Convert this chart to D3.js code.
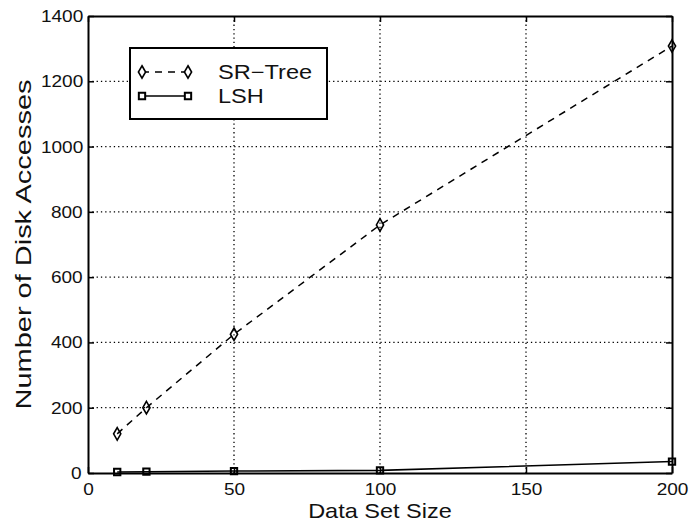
<!DOCTYPE html>
<html>
<head>
<meta charset="utf-8">
<script src="https://cdn.jsdelivr.net/npm/d3@7"></script>
<style>
  body { margin: 0; background: #fff; }
  svg { display: block; font-family: "Liberation Sans", Arial, sans-serif; }
  .stretch { transform-box: fill-box; transform-origin: center; transform: scaleX(1.12); }
  .stretch-l { transform-box: fill-box; transform-origin: left; transform: scaleX(1.18); }
</style>
</head>
<body>
<svg id="chart" width="691" height="528"></svg>
<script>
// data
const sizes = [10, 20, 50, 100, 200];
const srTree = [120, 200, 425, 760, 1308];
const lsh = [3, 4, 6, 8, 35];
const xTicks = [0, 50, 100, 150, 200];
const yTicks = [0, 200, 400, 600, 800, 1000, 1200, 1400];
const seriesNames = ["SR\u2212Tree", "LSH"];

const MARGIN = { TOP: 16, LEFT: 88, RIGHT: 19, BOTTOM: 55 };
const width = 691, height = 528;
const w = width - MARGIN.LEFT - MARGIN.RIGHT;
const h = height - MARGIN.TOP - MARGIN.BOTTOM;

const svg = d3.select("#chart");
const g = svg.append("g").attr("transform", `translate(${MARGIN.LEFT},${MARGIN.TOP})`);

const x = d3.scaleLinear().domain([0, 200]).range([0, w]);
const y = d3.scaleLinear().domain([0, 1400]).range([h, 0]);

// dotted grid
g.selectAll(".gx").data(xTicks.slice(1, -1)).enter().append("line")
  .attr("x1", d => x(d)).attr("x2", d => x(d)).attr("y1", 0).attr("y2", h)
  .attr("stroke", "#000").attr("stroke-width", 1.3).attr("stroke-dasharray", "1.3,3");
g.selectAll(".gy").data(yTicks.slice(1, -1)).enter().append("line")
  .attr("y1", d => y(d)).attr("y2", d => y(d)).attr("x1", 0).attr("x2", w)
  .attr("stroke", "#000").attr("stroke-width", 1.3).attr("stroke-dasharray", "1.3,3");

// axes, ticks pointing inward
const tickLen = 6;
const fmt = d3.format("d");
g.append("g").attr("transform", `translate(0,${h})`)
  .call(d3.axisBottom(x).tickValues(xTicks).tickFormat(fmt).tickSizeInner(-tickLen).tickSizeOuter(0).tickPadding(10));
g.append("g")
  .call(d3.axisLeft(y).tickValues(yTicks).tickFormat(fmt).tickSizeInner(-tickLen).tickSizeOuter(0).tickPadding(7));
g.append("g")
  .call(d3.axisTop(x).tickValues(xTicks).tickSizeInner(-tickLen).tickSizeOuter(0).tickFormat(""));
g.append("g").attr("transform", `translate(${w},0)`)
  .call(d3.axisRight(y).tickValues(yTicks).tickSizeInner(-tickLen).tickSizeOuter(0).tickFormat(""));

g.selectAll(".domain").attr("stroke", "#000").attr("stroke-width", 2);
g.selectAll(".tick line").attr("stroke", "#000").attr("stroke-width", 1.5);
g.selectAll(".tick text").attr("font-size", 17).attr("fill", "#111")
  .attr("font-family", "'Liberation Sans', Arial, sans-serif").attr("class", "stretch");

// series
const line = d3.line().x((d, i) => x(sizes[i])).y(d => y(d));

g.append("path").datum(srTree).attr("d", line)
  .attr("fill", "none").attr("stroke", "#000").attr("stroke-width", 1.5).attr("stroke-dasharray", "7,6");
g.append("path").datum(lsh).attr("d", line)
  .attr("fill", "none").attr("stroke", "#000").attr("stroke-width", 1.6);

const diamond = d3.symbol().type(d3.symbolDiamond).size(45);
const square = d3.symbol().type(d3.symbolSquare).size(40);

g.selectAll(".mk-sr").data(srTree).enter().append("path")
  .attr("d", diamond).attr("transform", (d, i) => `translate(${x(sizes[i])},${y(d)})`)
  .attr("fill", "none").attr("stroke", "#000").attr("stroke-width", 1.6);
g.selectAll(".mk-lsh").data(lsh).enter().append("path")
  .attr("d", square).attr("transform", (d, i) => `translate(${x(sizes[i])},${y(d)})`)
  .attr("fill", "none").attr("stroke", "#000").attr("stroke-width", 2);

// legend
const leg = svg.append("g");
leg.append("rect").attr("x", 130).attr("y", 48).attr("width", 197).attr("height", 71)
  .attr("fill", "#fff").attr("stroke", "#000").attr("stroke-width", 2);
const legY = [72, 96];
leg.append("line").attr("x1", 142).attr("x2", 188).attr("y1", legY[0]).attr("y2", legY[0])
  .attr("stroke", "#000").attr("stroke-width", 1.5).attr("stroke-dasharray", "7,6");
leg.append("line").attr("x1", 142).attr("x2", 188).attr("y1", legY[1]).attr("y2", legY[1])
  .attr("stroke", "#000").attr("stroke-width", 1.6);
[142, 188].forEach(px => {
  leg.append("path").attr("d", diamond).attr("transform", `translate(${px},${legY[0]})`)
    .attr("fill", "#fff").attr("stroke", "#000").attr("stroke-width", 1.6);
  leg.append("path").attr("d", square).attr("transform", `translate(${px},${legY[1]})`)
    .attr("fill", "#fff").attr("stroke", "#000").attr("stroke-width", 2);
});
leg.selectAll(".lt").data(seriesNames).enter().append("text")
  .attr("x", 218).attr("y", (d, i) => legY[i] + 7)
  .attr("font-size", 20).attr("fill", "#111").attr("class", "stretch-l").text(d => d);

// axis titles
svg.append("text").attr("x", MARGIN.LEFT + w / 2).attr("y", 518)
  .attr("text-anchor", "middle").attr("font-size", 21).attr("fill", "#111")
  .attr("class", "stretch").text("Data Set Size");
svg.append("text").attr("transform", `translate(31,${MARGIN.TOP + h / 2}) rotate(-90)`)
  .attr("text-anchor", "middle").attr("font-size", 22).attr("fill", "#111")
  .attr("textLength", 330).attr("lengthAdjust", "spacingAndGlyphs")
  .text("Number of Disk Accesses");
</script>
</body>
</html>
